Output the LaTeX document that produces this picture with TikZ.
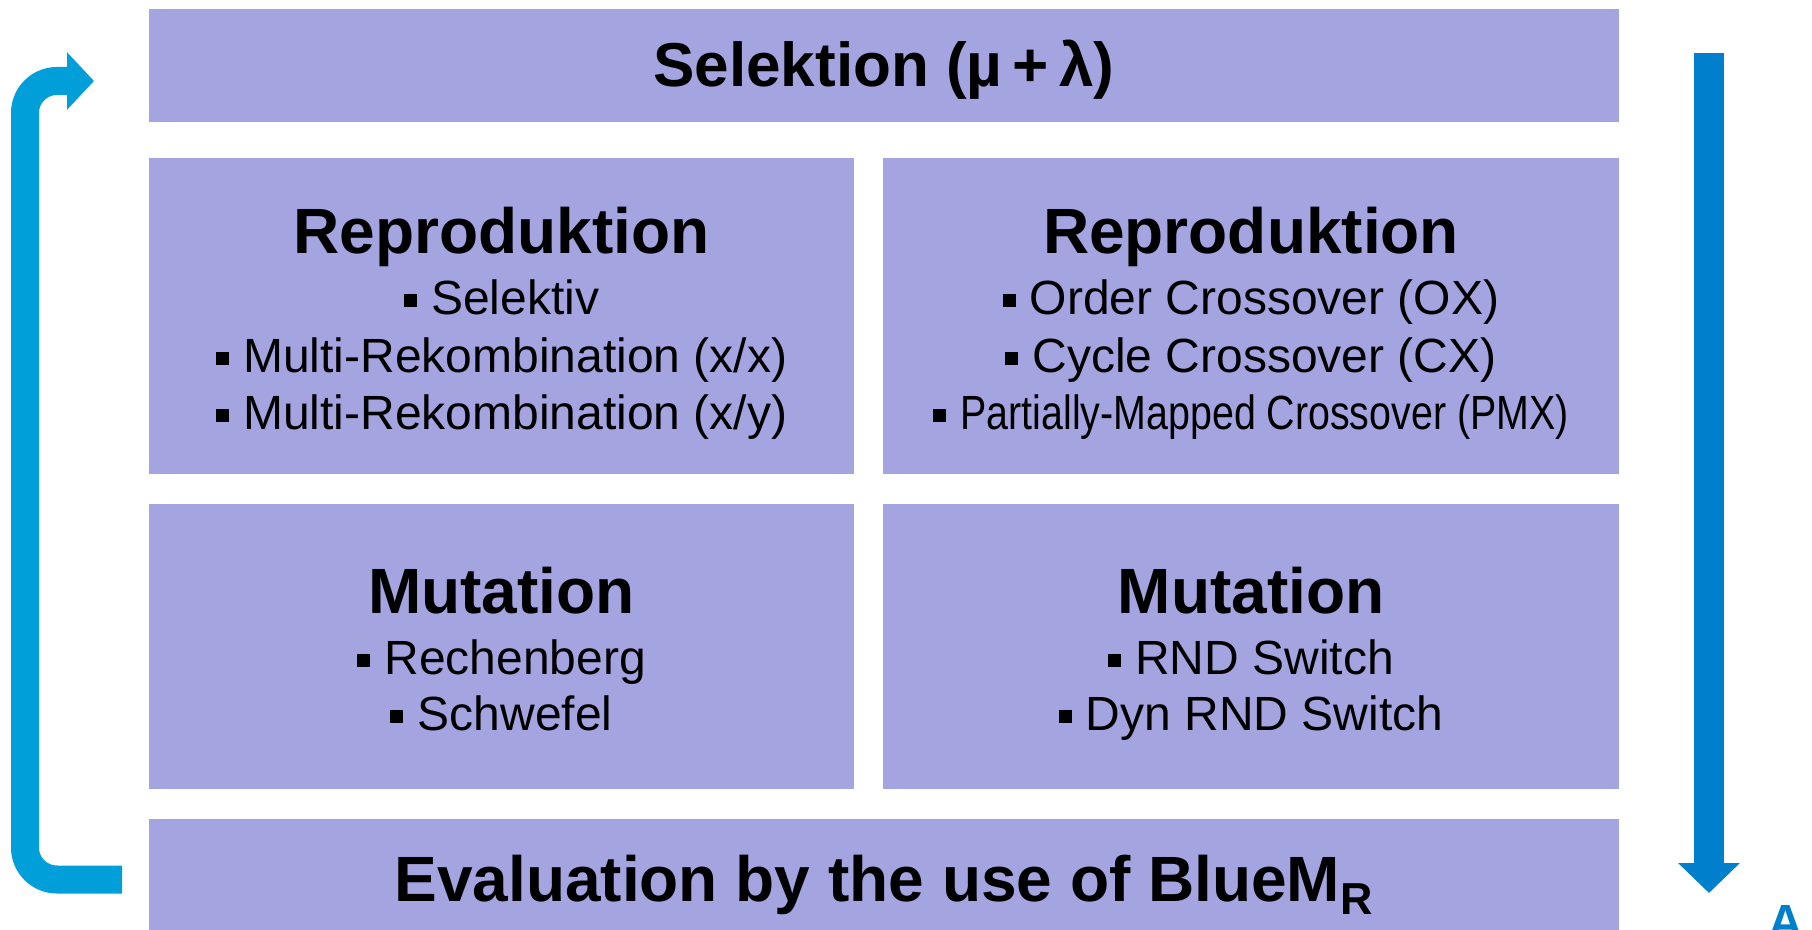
\documentclass[tikz,border=0pt]{standalone}
\usepackage{fontspec}
\setmainfont{Liberation Sans}
\newfontfamily\narrowfont[FakeStretch=0.82]{Liberation Sans}
\usepackage{tikz}
\usetikzlibrary{arrows.meta, positioning}
\definecolor{boxfill}{RGB}{164,164,224}
\definecolor{loopblue}{RGB}{0,159,218}
\definecolor{flowblue}{RGB}{0,128,204}
\newcommand{\sqbullet}{\rule[0.17em]{0.27em}{0.27em}\hspace{0.3em}}
\tikzstyle{block} = [rectangle, fill=boxfill, inner sep=0pt]
\tikzstyle{heading} = [anchor=base, inner sep=0pt, font=\fontsize{32}{36}\selectfont\bfseries]
\tikzstyle{item} = [anchor=base, inner sep=0pt, font=\fontsize{24}{28}\selectfont]
\tikzstyle{looparrow} = [line width=14pt, loopblue, rounded corners=16pt, -{Triangle[length=13.5pt, width=28pt]}]
\tikzstyle{flowarrow} = [line width=15pt, flowblue, -{Triangle[length=15pt, width=30pt]}]

\begin{document}
\begin{tikzpicture}[x=0.5pt, y=-0.5pt]
    \clip (0,0) rectangle (1812,930);
    % Selection
    \node[block, minimum width=735pt, minimum height=56.5pt] (sel) at (884,65.5) {};
    \node[heading, font=\fontsize{31}{36}\selectfont\bfseries] (seltext) at (884,87) {Selektion (µ\,+\,λ)};

    % Reproduction
    \node[block, minimum width=352.5pt, minimum height=158pt] (repl) at (501.5,316) {};
    \node[block, minimum width=368pt, minimum height=158pt] (repr) at (1251,316) {};
    \node[heading] (repltitle) at (501.5,254) {Reproduktion};
    \node[item] (repla) at (501.5,315) {\sqbullet Selektiv};
    \node[item] (replb) at (501.5,373) {\sqbullet Multi-Rekombination (x/x)};
    \node[item] (replc) at (501.5,430) {\sqbullet Multi-Rekombination (x/y)};
    \node[heading] (reprtitle) at (1251,254) {Reproduktion};
    \node[item] (repra) at (1251,315) {\sqbullet Order Crossover (OX)};
    \node[item] (reprb) at (1251,373) {\sqbullet Cycle Crossover (CX)};
    \node[item] (reprc) at (1251,430) {\sqbullet{\narrowfont Partially-Mapped Crossover (PMX)}};

    % Mutation
    \node[block, minimum width=352.5pt, minimum height=142.5pt] (mutl) at (501.5,646.5) {};
    \node[block, minimum width=368pt, minimum height=142.5pt] (mutr) at (1251,646.5) {};
    \node[heading] (mutltitle) at (501.5,614) {Mutation};
    \node[item] (mutla) at (501.5,675) {\sqbullet Rechenberg};
    \node[item] (mutlb) at (501.5,731) {\sqbullet Schwefel};
    \node[heading] (mutrtitle) at (1251,614) {Mutation};
    \node[item] (mutra) at (1251,675) {\sqbullet RND Switch};
    \node[item] (mutrb) at (1251,731) {\sqbullet Dyn RND Switch};

    % Evaluation
    \node[block, minimum width=735pt, minimum height=55.5pt] (eval) at (884,874.5) {};
    \node[heading] (evaltext) at (884,901) {Evaluation by the use of BlueM\textsubscript{R}};

    % Arrows
    \coordinate (loopstart) at (122,879.5);
    \coordinate (loopend) at (94,81);
    \coordinate (flowtop) at (1709,53);
    \coordinate (flowend) at (1709,893);
    \draw[looparrow] (loopstart) -- (25,879.5) -- (25,81) -- (loopend);
    \draw[flowarrow] (flowtop) -- (flowend);

    \node[anchor=north, inner sep=0pt, text=flowblue, font=\fontsize{24}{24}\selectfont\bfseries] (corner) at (1786,905) {A};
\end{tikzpicture}
\end{document}
